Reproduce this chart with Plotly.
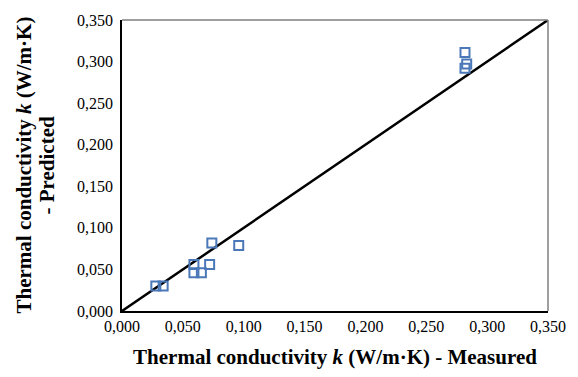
import plotly.graph_objects as go

measured = [0.0738, 0.0959, 0.0591, 0.0720, 0.0591, 0.0652, 0.0278, 0.0338, 0.2818, 0.2832, 0.2818]
predicted = [0.0819, 0.0787, 0.0558, 0.0558, 0.0460, 0.0460, 0.0300, 0.0300, 0.3110, 0.2970, 0.2920]
line_x = [0.0, 0.35]
line_y = [0.0, 0.35]
tick_vals = [0.0, 0.05, 0.10, 0.15, 0.20, 0.25, 0.30, 0.35]
y_title_lines = ["<b>Thermal conductivity <i>k</i> (W/m·K)</b>", "<b>- Predicted</b>"]

fig = go.Figure()
fig.add_trace(go.Scatter(x=line_x, y=line_y, mode="lines",
                         line=dict(color="black", width=2.5), showlegend=False))
fig.add_trace(go.Scatter(x=measured, y=predicted, mode="markers",
                         marker=dict(symbol="square-open", size=9, color="#4a78b8",
                                     line=dict(width=2, color="#4a78b8")),
                         showlegend=False))

font = "Liberation Serif"
fig.update_layout(
    width=578, height=377,
    margin=dict(l=122, r=28, t=17, b=65),
    paper_bgcolor="white", plot_bgcolor="white",
    separators=",.",
    font=dict(family=font, size=16, color="black"),
    xaxis=dict(range=[0, 0.35], tickvals=tick_vals, tickformat=".3f",
               showgrid=False, zeroline=False, showline=True, linecolor="black", linewidth=1.5,
               mirror=False, ticks="", tickfont=dict(family=font, size=16, color="black"),
               title=dict(text="<b>Thermal conductivity <i>k</i> (W/m·K) - Measured</b>",
                          font=dict(family=font, size=21, color="black"), standoff=15)),
    yaxis=dict(range=[0, 0.35], tickvals=tick_vals, tickformat=".3f",
               showgrid=False, zeroline=False, showline=True, linecolor="black", linewidth=1.5,
               ticks="", ticklabelstandoff=4,
               tickfont=dict(family=font, size=16, color="black")),
    shapes=[
        dict(type="line", xref="paper", yref="paper", x0=0, x1=1, y0=1, y1=1,
             line=dict(color="#7f7f7f", width=1.5)),
        dict(type="line", xref="paper", yref="paper", x0=1, x1=1, y0=0, y1=1,
             line=dict(color="#7f7f7f", width=1.5)),
    ],
    annotations=[
        dict(text=y_title_lines[0], xref="paper", yref="paper", x=0, y=0.5,
             xanchor="center", yanchor="middle", xshift=-99, textangle=-90, showarrow=False,
             font=dict(family=font, size=21, color="black")),
        dict(text=y_title_lines[1], xref="paper", yref="paper", x=0, y=0.5,
             xanchor="center", yanchor="middle", xshift=-76, textangle=-90, showarrow=False,
             font=dict(family=font, size=21, color="black")),
    ],
)
fig.write_html("out.html")
